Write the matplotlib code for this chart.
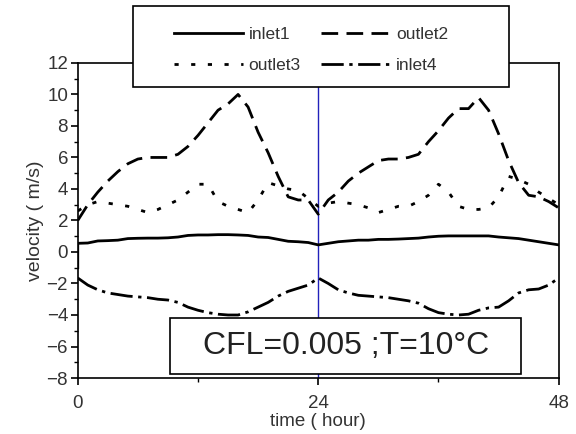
import numpy as np
import matplotlib.pyplot as plt
from matplotlib.patches import Rectangle

plt.rcParams['font.family'] = ['Liberation Sans', 'DejaVu Sans']

# data (time in hours, velocity in m/s)
hours = list(range(0, 49))

t_inlet1 = [0] + hours
inlet1 = [-1.0,
          0.55, 0.57, 0.7, 0.72, 0.75, 0.85, 0.87, 0.88, 0.88, 0.9, 0.95, 1.05, 1.08,
          1.08, 1.1, 1.1, 1.08, 1.05, 0.95, 0.92, 0.8, 0.68, 0.65, 0.6, 0.45,
          0.55, 0.65, 0.7, 0.75, 0.75, 0.8, 0.8, 0.82, 0.85, 0.88, 0.95, 1.0,
          1.02, 1.02, 1.02, 1.02, 1.02, 0.95, 0.9, 0.85, 0.75, 0.65, 0.55, 0.45]

outlet2 = [2.0, 3.0, 3.8, 4.5, 5.1, 5.6, 5.9, 6.0, 6.0, 6.0, 6.2, 6.7, 7.4,
           8.2, 9.0, 9.4, 10.0, 9.2, 7.6, 6.3, 4.8, 3.5, 3.3, 3.3, 2.4,
           3.3, 3.8, 4.5, 5.0, 5.4, 5.8, 5.9, 5.9, 6.0, 6.2, 7.0, 7.7, 8.5,
           9.1, 9.1, 9.8, 9.0, 7.5, 5.8, 4.4, 3.6, 3.5, 3.2, 2.8]

outlet3 = [2.6, 3.0, 3.2, 3.1, 3.0, 2.9, 2.7, 2.5, 2.7, 3.0, 3.3, 3.8, 4.3,
           4.3, 3.2, 2.9, 2.7, 2.5, 3.3, 4.4, 4.2, 4.0, 3.9, 3.4, 2.9,
           3.1, 3.2, 3.1, 3.0, 2.8, 2.5, 2.7, 2.9, 2.9, 3.2, 3.6, 4.3, 3.8,
           2.9, 2.7, 2.7, 2.8, 3.5, 4.8, 4.6, 4.3, 3.8, 3.4, 3.0]

inlet4 = [-1.65, -2.1, -2.4, -2.6, -2.7, -2.8, -2.85, -2.9, -3.0, -3.05, -3.2,
          -3.5, -3.7, -3.85, -3.95, -4.0, -4.0, -3.8, -3.5, -3.2, -2.8, -2.5,
          -2.3, -2.1, -1.65,
          -2.0, -2.4, -2.6, -2.75, -2.8, -2.85, -2.9, -3.0, -3.1, -3.25, -3.6,
          -3.85, -3.95, -4.0, -3.95, -3.7, -3.55, -3.5, -3.1, -2.6, -2.4,
          -2.35, -2.1, -1.65]

x_ticks = [0, 24, 48]
y_ticks = list(range(-8, 13, 2))
note = 'CFL=0.005 ;T=10°C'

fig = plt.figure(figsize=(5.76, 4.34), dpi=100)
ax = fig.add_axes([0.135, 0.129, 0.835, 0.726])

lw = 2.0
l1, = ax.plot(t_inlet1, inlet1, color='black', lw=lw, label='inlet1')
l2, = ax.plot(hours, outlet2, color='black', lw=lw, dashes=(6, 3), label='outlet2')
l3, = ax.plot(hours, outlet3, color='black', lw=lw, dashes=(1.5, 4.5), label='outlet3')
l4, = ax.plot(hours, inlet4, color='black', lw=lw, dashes=(8, 2, 1.2, 2), label='inlet4')

ax.axvline(24, color='#2222bb', lw=1.0, zorder=1)

ax.set_xlim(0, 48)
ax.set_ylim(-8, 12)
ax.set_xticks(x_ticks)
ax.set_xticks([12, 36], minor=True)
ax.set_yticks(y_ticks)
ax.set_yticks(list(range(-7, 12, 2)), minor=True)
ax.tick_params(which='major', direction='out', length=5, width=1.2,
               labelsize=13.5, labelcolor='#333333')
ax.tick_params(axis='x', which='major', pad=7)
ax.tick_params(axis='y', which='major', pad=2)
ax.tick_params(which='minor', direction='out', length=3, width=1.0)
for s in ax.spines.values():
    s.set_linewidth(1.2)

ax.set_xlabel('time ( hour)', fontsize=13.5, color='#333333', labelpad=1)
ax.set_ylabel('velocity ( m/s)', fontsize=14, color='#333333', labelpad=2)

# legend frame drawn as its own box, partly above the axes
frame = Rectangle((0.114, 0.924), 0.782, 0.257, transform=ax.transAxes,
                  facecolor='white', edgecolor='black', lw=1.2, zorder=9,
                  clip_on=False)
ax.add_patch(frame)
leg = ax.legend([l1, l3, l2, l4], ['inlet1', 'outlet3', 'outlet2', 'inlet4'],
                loc='center', bbox_to_anchor=(0.485, 1.041), ncol=2,
                fontsize=12.5, handlelength=4.0, handletextpad=0.3,
                labelspacing=0.95, columnspacing=1.2, borderpad=0,
                frameon=False)
leg.set_zorder(10)
for txt in leg.get_texts():
    txt.set_color('#333333')

box = Rectangle((0.191, 0.0127), 0.73, 0.177, transform=ax.transAxes,
                facecolor='white', edgecolor='black', lw=1.2, zorder=8)
ax.add_patch(box)
ax.text(0.559, 0.1016, note, transform=ax.transAxes, fontsize=23,
        ha='center', va='center', color='#222222', zorder=9)

fig.savefig('out.png', dpi=100)
